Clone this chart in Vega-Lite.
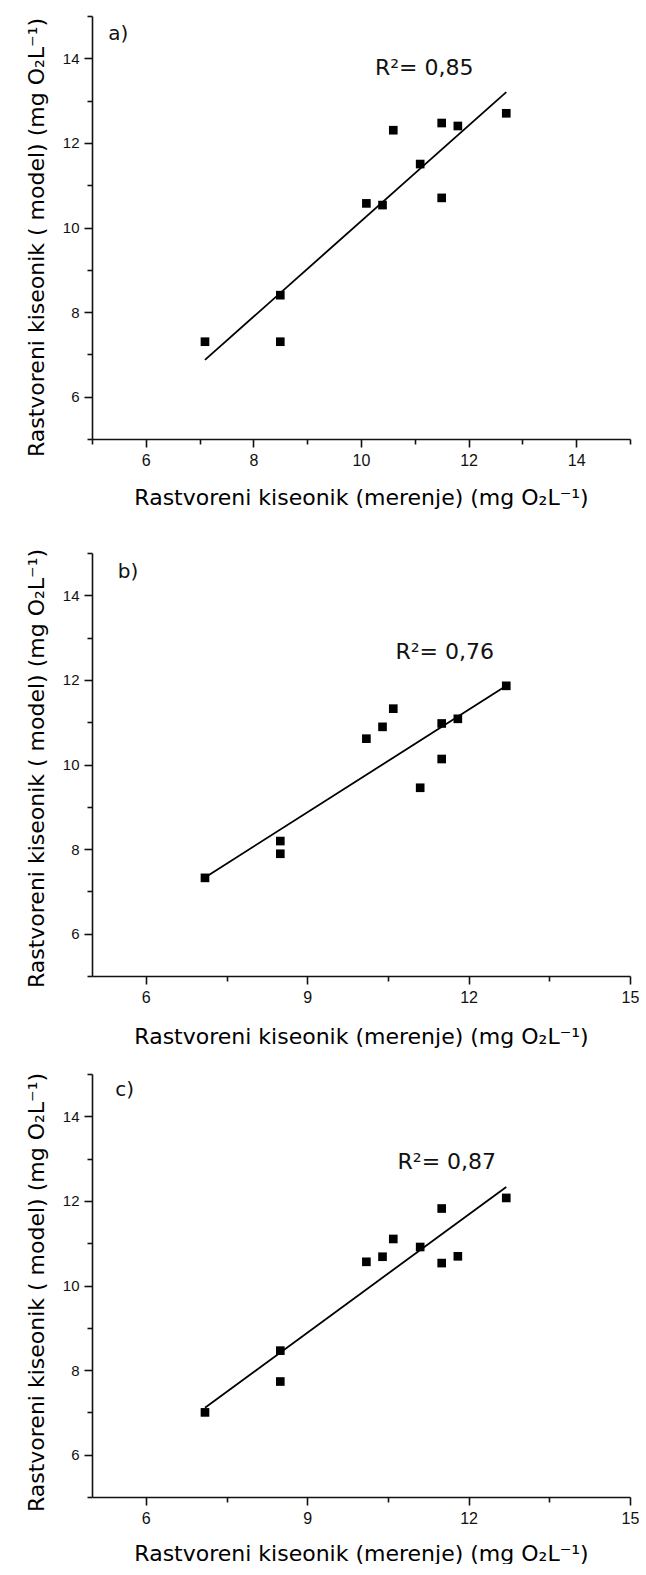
{
  "$schema": "https://vega.github.io/schema/vega-lite/v6.json",
  "background": "white",
  "padding": {"left": 25, "top": 15, "right": 0, "bottom": 0},
  "spacing": 40,
  "config": {
    "view": {"stroke": null},
    "axis": {
      "grid": false,
      "domainColor": "#111",
      "domainWidth": 1.6,
      "tickColor": "#111",
      "tickWidth": 1.6,
      "labelColor": "#111",
      "labelFont": "Liberation Sans",
      "labelFlush": false,
      "labelOverlap": false,
      "titleFont": "DejaVu Sans",
      "titleFontWeight": "normal",
      "titleColor": "#000",
      "titleFontSize": 22
    }
  },
  "datasets": {
    "pts": [
      {"panel": "a", "x": 7.1, "y": 7.3}, {"panel": "a", "x": 8.5, "y": 8.4}, {"panel": "a", "x": 8.5, "y": 7.3},
      {"panel": "a", "x": 10.1, "y": 10.57}, {"panel": "a", "x": 10.4, "y": 10.53}, {"panel": "a", "x": 10.6, "y": 12.3},
      {"panel": "a", "x": 11.1, "y": 11.5}, {"panel": "a", "x": 11.5, "y": 12.47}, {"panel": "a", "x": 11.5, "y": 10.7},
      {"panel": "a", "x": 11.8, "y": 12.4}, {"panel": "a", "x": 12.7, "y": 12.7},
      {"panel": "b", "x": 7.1, "y": 7.32}, {"panel": "b", "x": 8.5, "y": 8.19}, {"panel": "b", "x": 8.5, "y": 7.89},
      {"panel": "b", "x": 10.1, "y": 10.61}, {"panel": "b", "x": 10.4, "y": 10.89}, {"panel": "b", "x": 10.6, "y": 11.32},
      {"panel": "b", "x": 11.1, "y": 9.45}, {"panel": "b", "x": 11.5, "y": 10.97}, {"panel": "b", "x": 11.5, "y": 10.13},
      {"panel": "b", "x": 11.8, "y": 11.08}, {"panel": "b", "x": 12.7, "y": 11.86},
      {"panel": "c", "x": 7.1, "y": 7.0}, {"panel": "c", "x": 8.5, "y": 8.46}, {"panel": "c", "x": 8.5, "y": 7.73},
      {"panel": "c", "x": 10.1, "y": 10.56}, {"panel": "c", "x": 10.4, "y": 10.68}, {"panel": "c", "x": 10.6, "y": 11.1},
      {"panel": "c", "x": 11.1, "y": 10.91}, {"panel": "c", "x": 11.5, "y": 11.82}, {"panel": "c", "x": 11.5, "y": 10.53},
      {"panel": "c", "x": 11.8, "y": 10.69}, {"panel": "c", "x": 12.7, "y": 12.07}
    ],
    "fit": [
      {"panel": "a", "x": 7.1, "y": 6.87}, {"panel": "a", "x": 12.7, "y": 13.2},
      {"panel": "b", "x": 7.1, "y": 7.33}, {"panel": "b", "x": 12.7, "y": 11.86},
      {"panel": "c", "x": 7.1, "y": 7.11}, {"panel": "c", "x": 12.7, "y": 12.33}
    ],
    "r2": [
      {"panel": "a", "x": 10.26, "y": 13.6, "label": "R²= 0,85"},
      {"panel": "b", "x": 10.64, "y": 12.49, "label": "R²= 0,76"},
      {"panel": "c", "x": 10.68, "y": 12.76, "label": "R²= 0,87"}
    ],
    "tags": [
      {"panel": "a", "x": 5.3, "y": 14.43, "label": "a)"},
      {"panel": "b", "x": 5.48, "y": 14.41, "label": "b)"},
      {"panel": "c", "x": 5.43, "y": 14.48, "label": "c)"}
    ]
  },
  "vconcat": [
    {
      "width": 538,
      "height": 423,
      "resolve": {"axis": {"x": "independent", "y": "independent"}},
      "layer": [
        {
          "data": {"name": "fit"},
          "transform": [{"filter": "datum.panel === 'a'"}],
          "mark": {"type": "line", "color": "#000", "strokeWidth": 1.8},
          "encoding": {
            "x": {"field": "x", "type": "quantitative", "scale": {"domain": [5, 15], "nice": false, "zero": false},
              "axis": {"orient": "bottom", "values": [6, 8, 10, 12, 14], "tickSize": 8, "labelFontSize": 16, "labelPadding": 5,
                "title": "Rastvoreni kiseonik (merenje) (mg O₂L⁻¹)", "titlePadding": 19}},
            "y": {"field": "y", "type": "quantitative", "scale": {"domain": [5, 15], "nice": false, "zero": false},
              "axis": {"orient": "left", "values": [6, 8, 10, 12, 14], "tickSize": 8, "labelFontSize": 15, "labelPadding": 5,
                "title": "Rastvoreni kiseonik ( model) (mg O₂L⁻¹)", "titlePadding": 14, "titleY": 221}}
          }
        },
        {
          "data": {"name": "pts"},
          "transform": [{"filter": "datum.panel === 'a'"}],
          "mark": {"type": "point", "shape": "square", "filled": true, "color": "#000", "opacity": 1, "size": 75},
          "encoding": {
            "x": {"field": "x", "type": "quantitative", "axis": {"orient": "bottom", "values": [5, 7, 9, 11, 13, 15], "tickSize": 5, "labels": false, "domain": false, "title": null}},
            "y": {"field": "y", "type": "quantitative", "axis": {"orient": "left", "values": [5, 7, 9, 11, 13, 15], "tickSize": 5, "labels": false, "domain": false, "title": null}}
          }
        },
        {
          "data": {"name": "r2"},
          "transform": [{"filter": "datum.panel === 'a'"}],
          "mark": {"type": "text", "align": "left", "baseline": "alphabetic", "font": "DejaVu Sans", "fontSize": 22, "color": "#111"},
          "encoding": {
            "x": {"field": "x", "type": "quantitative", "axis": null},
            "y": {"field": "y", "type": "quantitative", "axis": null},
            "text": {"field": "label"}
          }
        },
        {
          "data": {"name": "tags"},
          "transform": [{"filter": "datum.panel === 'a'"}],
          "mark": {"type": "text", "align": "left", "baseline": "alphabetic", "font": "DejaVu Sans", "fontSize": 20, "color": "#111"},
          "encoding": {
            "x": {"field": "x", "type": "quantitative", "axis": null},
            "y": {"field": "y", "type": "quantitative", "axis": null},
            "text": {"field": "label"}
          }
        }
      ]
    },
    {
      "spacing": 25,
      "vconcat": [
        {
          "width": 538,
          "height": 423,
          "resolve": {"axis": {"x": "independent", "y": "independent"}},
          "layer": [
            {
              "data": {"name": "fit"},
              "transform": [{"filter": "datum.panel === 'b'"}],
              "mark": {"type": "line", "color": "#000", "strokeWidth": 1.8},
              "encoding": {
                "x": {"field": "x", "type": "quantitative", "scale": {"domain": [5, 15], "nice": false, "zero": false},
                  "axis": {"orient": "bottom", "values": [6, 9, 12, 15], "tickSize": 8, "labelFontSize": 16, "labelPadding": 5,
                    "title": "Rastvoreni kiseonik (merenje) (mg O₂L⁻¹)", "titlePadding": 21}},
                "y": {"field": "y", "type": "quantitative", "scale": {"domain": [5, 15], "nice": false, "zero": false},
                  "axis": {"orient": "left", "values": [6, 8, 10, 12, 14], "tickSize": 8, "labelFontSize": 15, "labelPadding": 5,
                    "title": "Rastvoreni kiseonik ( model) (mg O₂L⁻¹)", "titlePadding": 14, "titleY": 215}}
              }
            },
            {
              "data": {"name": "pts"},
              "transform": [{"filter": "datum.panel === 'b'"}],
              "mark": {"type": "point", "shape": "square", "filled": true, "color": "#000", "opacity": 1, "size": 75},
              "encoding": {
                "x": {"field": "x", "type": "quantitative", "axis": {"orient": "bottom", "values": [7.5, 10.5, 13.5], "tickSize": 5, "labels": false, "domain": false, "title": null}},
                "y": {"field": "y", "type": "quantitative", "axis": {"orient": "left", "values": [5, 7, 9, 11, 13, 15], "tickSize": 5, "labels": false, "domain": false, "title": null}}
              }
            },
            {
              "data": {"name": "r2"},
              "transform": [{"filter": "datum.panel === 'b'"}],
              "mark": {"type": "text", "align": "left", "baseline": "alphabetic", "font": "DejaVu Sans", "fontSize": 22, "color": "#111"},
              "encoding": {
                "x": {"field": "x", "type": "quantitative", "axis": null},
                "y": {"field": "y", "type": "quantitative", "axis": null},
                "text": {"field": "label"}
              }
            },
            {
              "data": {"name": "tags"},
              "transform": [{"filter": "datum.panel === 'b'"}],
              "mark": {"type": "text", "align": "left", "baseline": "alphabetic", "font": "DejaVu Sans", "fontSize": 20, "color": "#111"},
              "encoding": {
                "x": {"field": "x", "type": "quantitative", "axis": null},
                "y": {"field": "y", "type": "quantitative", "axis": null},
                "text": {"field": "label"}
              }
            }
          ]
        },
        {
          "width": 538,
          "height": 423,
          "resolve": {"axis": {"x": "independent", "y": "independent"}},
          "layer": [
            {
              "data": {"name": "fit"},
              "transform": [{"filter": "datum.panel === 'c'"}],
              "mark": {"type": "line", "color": "#000", "strokeWidth": 1.8},
              "encoding": {
                "x": {"field": "x", "type": "quantitative", "scale": {"domain": [5, 15], "nice": false, "zero": false},
                  "axis": {"orient": "bottom", "values": [6, 9, 12, 15], "tickSize": 8, "labelFontSize": 16, "labelPadding": 5,
                    "title": "Rastvoreni kiseonik (merenje) (mg O₂L⁻¹)", "titlePadding": 17}},
                "y": {"field": "y", "type": "quantitative", "scale": {"domain": [5, 15], "nice": false, "zero": false},
                  "axis": {"orient": "left", "values": [6, 8, 10, 12, 14], "tickSize": 8, "labelFontSize": 15, "labelPadding": 5,
                    "title": "Rastvoreni kiseonik ( model) (mg O₂L⁻¹)", "titlePadding": 14, "titleY": 218}}
              }
            },
            {
              "data": {"name": "pts"},
              "transform": [{"filter": "datum.panel === 'c'"}],
              "mark": {"type": "point", "shape": "square", "filled": true, "color": "#000", "opacity": 1, "size": 75},
              "encoding": {
                "x": {"field": "x", "type": "quantitative", "axis": {"orient": "bottom", "values": [7.5, 10.5, 13.5], "tickSize": 5, "labels": false, "domain": false, "title": null}},
                "y": {"field": "y", "type": "quantitative", "axis": {"orient": "left", "values": [5, 7, 9, 11, 13, 15], "tickSize": 5, "labels": false, "domain": false, "title": null}}
              }
            },
            {
              "data": {"name": "r2"},
              "transform": [{"filter": "datum.panel === 'c'"}],
              "mark": {"type": "text", "align": "left", "baseline": "alphabetic", "font": "DejaVu Sans", "fontSize": 22, "color": "#111"},
              "encoding": {
                "x": {"field": "x", "type": "quantitative", "axis": null},
                "y": {"field": "y", "type": "quantitative", "axis": null},
                "text": {"field": "label"}
              }
            },
            {
              "data": {"name": "tags"},
              "transform": [{"filter": "datum.panel === 'c'"}],
              "mark": {"type": "text", "align": "left", "baseline": "alphabetic", "font": "DejaVu Sans", "fontSize": 20, "color": "#111"},
              "encoding": {
                "x": {"field": "x", "type": "quantitative", "axis": null},
                "y": {"field": "y", "type": "quantitative", "axis": null},
                "text": {"field": "label"}
              }
            }
          ]
        }
      ]
    }
  ]
}
